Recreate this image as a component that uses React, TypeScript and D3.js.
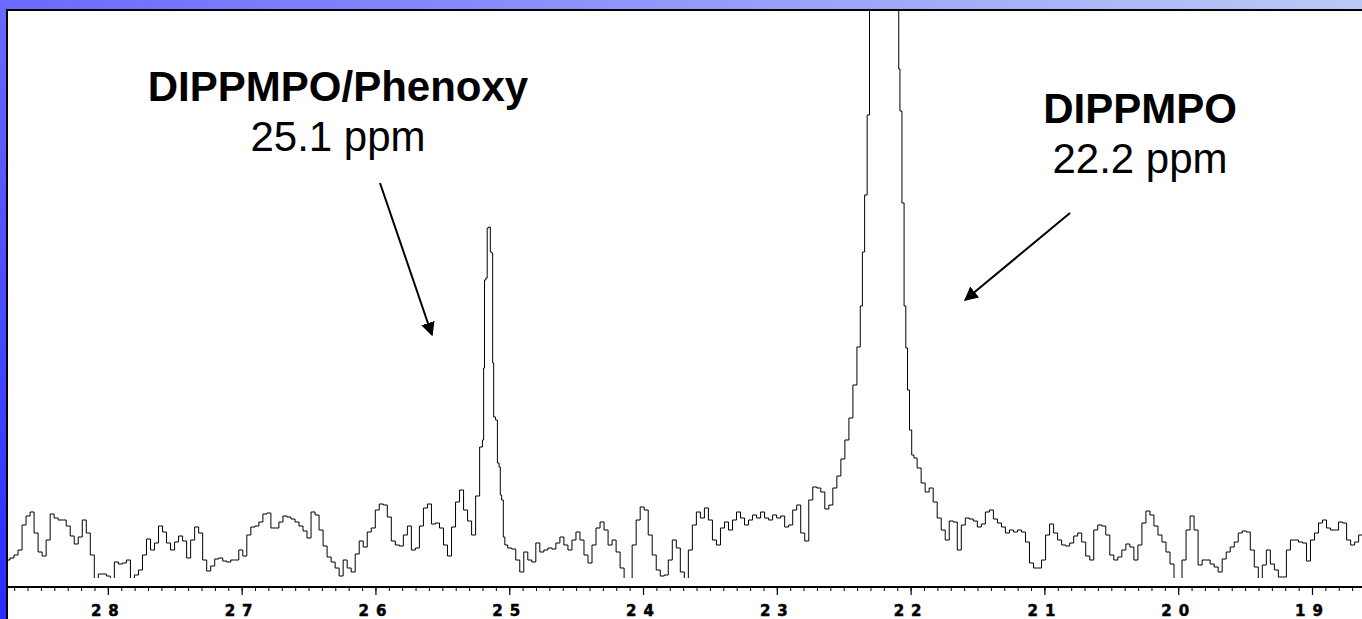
import React from 'react';
import * as d3 from 'd3';

const W = 1362;
const H = 619;

// 31P spectrum: chemical shift (ppm) and intensity (a.u.)
const spectrum: [number, number][] = [
  [28.75, 18], [28.72, 20], [28.69, 23], [28.66, 28], [28.63, 53], [28.6, 62], [28.57, 66], [28.54, 45],
  [28.51, 26], [28.48, 22], [28.45, 38], [28.42, 64], [28.39, 60], [28.36, 58], [28.33, 58], [28.3, 52],
  [28.27, 42], [28.24, 34], [28.21, 41], [28.18, 58], [28.15, 45], [28.12, 23], [28.09, -12], [28.06, 4],
  [28.03, 4], [28.0, 2], [27.97, -12], [27.94, 16], [27.91, 14], [27.88, 15], [27.85, 18], [27.82, -12],
  [27.79, 3], [27.76, 8], [27.73, 23], [27.7, 39], [27.67, 28], [27.64, 35], [27.61, 52], [27.58, 46],
  [27.55, 35], [27.52, 28], [27.49, 36], [27.46, 42], [27.43, 37], [27.4, 20], [27.37, 38], [27.34, 51],
  [27.31, 45], [27.28, 18], [27.25, 7], [27.22, 12], [27.19, 19], [27.16, 20], [27.13, 17], [27.1, 16],
  [27.07, 18], [27.04, 18], [27.01, 28], [26.98, 22], [26.95, 43], [26.92, 51], [26.89, 52], [26.86, 56],
  [26.83, 64], [26.8, 65], [26.77, 50], [26.74, 50], [26.71, 56], [26.68, 62], [26.65, 61], [26.62, 59],
  [26.59, 56], [26.56, 52], [26.53, 47], [26.5, 40], [26.47, 66], [26.44, 63], [26.41, 48], [26.38, 32],
  [26.35, 21], [26.32, 16], [26.29, 10], [26.26, 2], [26.23, 18], [26.2, 10], [26.17, 6], [26.14, 24],
  [26.11, 37], [26.08, 31], [26.05, 46], [26.02, 50], [25.99, 68], [25.96, 74], [25.93, 73], [25.9, 61],
  [25.87, 37], [25.84, 33], [25.81, 32], [25.78, 43], [25.75, 52], [25.72, 28], [25.69, 30], [25.66, 52],
  [25.63, 70], [25.6, 74], [25.57, 54], [25.54, 55], [25.51, 50], [25.48, 33], [25.45, 22], [25.42, 51],
  [25.39, 76], [25.36, 88], [25.33, 68], [25.3, 57], [25.27, 43], [25.24, 82], [25.21, 131],
  // phenoxy adduct
  [25.198, 138], [25.192, 210], [25.185, 298], [25.172, 300], [25.165, 350], [25.15, 351], [25.14, 326],
  [25.13, 325], [25.125, 215], [25.115, 161], [25.098, 158], [25.086, 115], [25.073, 111], [25.068, 83],
  [25.053, 78], [25.043, 41],
  [25.03, 33], [25.0, 30], [24.97, 29], [24.94, 18], [24.91, 6], [24.88, 26], [24.85, 18], [24.82, 16],
  [24.79, 35], [24.76, 26], [24.73, 28], [24.7, 30], [24.67, 29], [24.64, 35], [24.61, 41], [24.58, 33],
  [24.55, 28], [24.52, 38], [24.49, 46], [24.46, 38], [24.43, 23], [24.4, 15], [24.37, 33], [24.34, 50],
  [24.31, 56], [24.28, 48], [24.25, 33], [24.22, 38], [24.19, 26], [24.16, 10], [24.13, -12], [24.1, -12],
  [24.07, 33], [24.04, 58], [24.01, 71], [23.98, 68], [23.95, 43], [23.92, 23], [23.89, 8], [23.86, 2],
  [23.83, 3], [23.8, 18], [23.77, 38], [23.74, 30], [23.71, 6], [23.68, -12], [23.65, 28], [23.62, 53],
  [23.59, 66], [23.56, 60], [23.53, 70], [23.5, 58], [23.47, 38], [23.44, 33], [23.41, 50], [23.38, 56],
  [23.35, 48], [23.32, 58], [23.29, 66], [23.26, 60], [23.23, 53], [23.2, 58], [23.17, 63], [23.14, 60],
  [23.11, 66], [23.08, 60], [23.05, 58], [23.02, 63], [22.99, 60], [22.96, 62], [22.93, 51], [22.9, 53],
  [22.87, 68], [22.84, 73], [22.81, 45], [22.78, 37], [22.75, 78], [22.72, 91], [22.69, 90], [22.66, 86],
  [22.63, 69], [22.6, 73], [22.57, 90], [22.54, 102], [22.51, 119], [22.48, 138], [22.45, 160], [22.42, 193],
  [22.39, 231],
  // free spin trap
  [22.37, 272], [22.358, 326], [22.337, 383], [22.32, 463], [22.302, 900], [22.2, 1600], [22.096, 900],
  [22.089, 509], [22.078, 467], [22.059, 375], [22.046, 272], [22.033, 230], [22.021, 188], [22.003, 148],
  [21.988, 123],
  [21.97, 120], [21.94, 110], [21.91, 95], [21.88, 86], [21.85, 90], [21.82, 76], [21.79, 60], [21.76, 48],
  [21.73, 38], [21.7, 57], [21.67, 56], [21.64, 28], [21.61, 53], [21.58, 60], [21.55, 59], [21.52, 57],
  [21.49, 51], [21.46, 54], [21.43, 66], [21.4, 68], [21.37, 59], [21.34, 55], [21.31, 51], [21.28, 45],
  [21.25, 48], [21.22, 46], [21.19, 48], [21.16, 46], [21.13, 36], [21.1, 15], [21.07, 10], [21.04, 10],
  [21.01, 18], [20.98, 43], [20.95, 54], [20.92, 45], [20.89, 38], [20.86, 33], [20.83, 32], [20.8, 35],
  [20.77, 42], [20.74, 45], [20.71, 36], [20.68, 22], [20.65, 18], [20.62, 48], [20.59, 53], [20.56, 52],
  [20.53, 43], [20.5, 23], [20.47, 18], [20.44, 21], [20.41, 28], [20.38, 34], [20.35, 31], [20.32, 18],
  [20.29, 33], [20.26, 55], [20.23, 67], [20.2, 63], [20.17, 52], [20.14, 43], [20.11, 36], [20.08, 26],
  [20.05, 14], [20.02, -12], [19.99, -12], [19.96, 18], [19.93, 48], [19.9, 62], [19.87, 48], [19.84, 13],
  [19.81, 18], [19.78, 18], [19.75, 14], [19.72, 11], [19.69, 6], [19.66, 19], [19.63, 26], [19.6, 31],
  [19.57, 36], [19.54, 45], [19.51, 47], [19.48, 46], [19.45, 28], [19.42, 11], [19.39, -12], [19.36, 13],
  [19.33, 28], [19.3, 14], [19.27, 8], [19.24, 1], [19.21, 1], [19.18, 28], [19.15, 38], [19.12, 38],
  [19.09, 36], [19.06, 35], [19.03, 17], [19.0, 38], [18.97, 45], [18.94, 55], [18.91, 58], [18.88, 50],
  [18.85, 48], [18.82, 48], [18.79, 56], [18.76, 55], [18.73, 38], [18.7, 33], [18.67, 36], [18.64, 43],
  [18.61, 48],
];

const majorTicks = [28, 27, 26, 25, 24, 23, 22, 21, 20, 19];
const minorTicks = d3.range(187, 288).map((d) => d / 10);

const adductName = 'DIPPMPO/Phenoxy';
const adductShift = '25.1 ppm';
const trapName = 'DIPPMPO';
const trapShift = '22.2 ppm';

export default function App() {
  const left = 8;
  const top = 11;
  const axisY = 587;
  const floorY = 578;

  const x = d3.scaleLinear().domain([28.75, 18.63]).range([left, W]);
  const y = d3.scaleLinear().domain([0, 570]).range([floorY, floorY - 570]);

  const line = d3
    .line<[number, number]>()
    .x((d) => x(d[0]))
    .y((d) => y(d[1]))
    .curve(d3.curveStep);

  const labelFont = "'Liberation Sans', Arial, sans-serif";

  return (
    <svg
      width={W}
      height={H}
      style={{ position: 'fixed', left: 0, top: 0, display: 'block' }}
    >
      <defs>
        <linearGradient id="frame" x1="0" y1="1" x2="1" y2="0">
          <stop offset="0" stopColor="#2a2aff" />
          <stop offset="0.5" stopColor="#6a6aff" />
          <stop offset="1" stopColor="#bccbf6" />
        </linearGradient>
        <clipPath id="plotClip">
          <rect x={left} y={top} width={W - left} height={floorY - top} />
        </clipPath>
        <marker
          id="head"
          viewBox="0 0 10 10"
          refX="9"
          refY="5"
          markerWidth="7"
          markerHeight="7"
          markerUnits="strokeWidth"
          orient="auto"
        >
          <path d="M0,0 L10,5 L0,10 z" fill="#000" />
        </marker>
      </defs>

      <rect x={0} y={0} width={W} height={H} fill="url(#frame)" />
      <rect x={left} y={top} width={W - left} height={H - top} fill="#fff" />
      <line x1={6} x2={W} y1={10} y2={10} stroke="#000" strokeWidth={2} />
      <line x1={7} x2={7} y1={9} y2={H} stroke="#000" strokeWidth={2} />

      <path
        d={line(spectrum) ?? ''}
        fill="none"
        stroke="#000"
        strokeWidth={1}
        clipPath="url(#plotClip)"
      />

      <line x1={left} x2={W} y1={axisY} y2={axisY} stroke="#000" strokeWidth={1.8} />
      {minorTicks.map((t) => (
        <line
          key={`m${t}`}
          x1={x(t)}
          x2={x(t)}
          y1={axisY}
          y2={axisY + 4}
          stroke="#000"
          strokeWidth={1}
        />
      ))}
      {majorTicks.map((t) => (
        <g key={`t${t}`}>
          <line x1={x(t)} x2={x(t)} y1={axisY} y2={axisY + 8} stroke="#000" strokeWidth={1.2} />
          <text
            x={x(t)}
            y={616}
            textAnchor="middle"
            fontFamily="'DejaVu Sans', sans-serif"
            fontWeight="bold"
            fontSize={15}
            letterSpacing={7}
            stroke="#000"
            strokeWidth={0.5}
          >
            {t}
          </text>
        </g>
      ))}

      <g fontFamily={labelFont} fill="#000" textAnchor="middle">
        <text x={338} y={101} fontSize={42} fontWeight="bold">{adductName}</text>
        <text x={338} y={151} fontSize={42}>{adductShift}</text>
        <text x={1140} y={123} fontSize={42} fontWeight="bold">{trapName}</text>
        <text x={1140} y={173} fontSize={42}>{trapShift}</text>
      </g>

      <line x1={380} y1={183} x2={432} y2={335} stroke="#000" strokeWidth={2} markerEnd="url(#head)" />
      <line x1={1070} y1={213} x2={965} y2={300} stroke="#000" strokeWidth={2} markerEnd="url(#head)" />
    </svg>
  );
}
